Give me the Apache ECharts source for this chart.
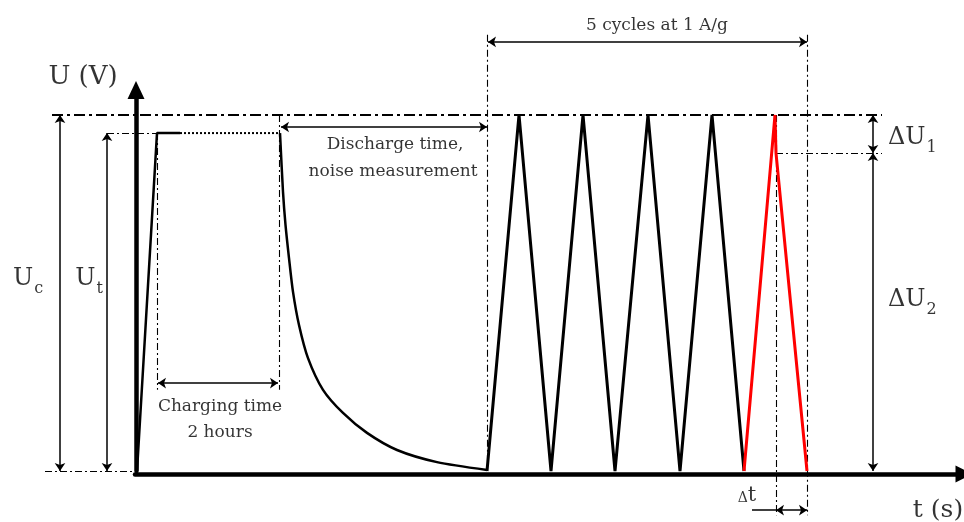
<!DOCTYPE html>
<html><head><meta charset="utf-8">
<script src="https://cdn.jsdelivr.net/npm/echarts@6/dist/echarts.min.js"></script>
<style>html,body{margin:0;padding:0;background:#fff}#c{width:964px;height:522px}</style>
</head><body><div id="c"></div>
<script>
// Voltage levels (normalised, U_C = 1)
const U_C = 1.0, U_T = 0.949, U_DROP = 0.893;

// Signal: charging ramp, hold, self-discharge, 5 galvanostatic cycles
const chargeT = [2, 22, 45];
const chargeU = [0, U_T, U_T];
const holdT = [45, 144];
const holdU = [U_T, U_T];
const dischargeT = [145, 148, 150.5, 154, 158, 164, 173, 188, 208, 232, 262, 302, 352];
const dischargeU = [0.949, 0.784, 0.691, 0.598, 0.503, 0.410, 0.317, 0.228, 0.163, 0.107, 0.059, 0.025, 0.003];
const cycleT = [352, 384, 416, 448, 480, 513, 545, 577, 609];
const cycleU = [0, 1, 0, 1, 0, 1, 0, 1, 0];
const redT = [609, 640, 641, 672];
const redU = [0, U_C, U_DROP, 0];

// Guide lines [t1, u1, t2, u2]
const thinGuides = [
  [-28, U_T, 22, U_T], [-90, 0, 0, 0], [22, U_T, 22, 0.228], [144, U_C, 144, 0.228],
  [352, 1.225, 352, 0], [672, 1.225, 672, -0.124], [641, U_C, 641, -0.124], [641, U_DROP, 747, U_DROP]
];
const topGuide = [[-83, U_C, 747, U_C]];
const doubleArrows = [
  [-75, U_C, -75, 0], [-28, U_T, -28, 0], [23, 0.247, 143, 0.247], [146, 0.966, 352, 0.966],
  [353, 1.205, 672, 1.205], [738, U_C, 738, U_DROP], [738, U_DROP, 738, 0], [641, -0.110, 672, -0.110]
];
const plainLines = [[617, -0.110, 641, -0.110]];

// Text labels
const labelText = ['U (V)', '{u|U}{s|c}', '{u|U}{s|t}', 'Charging time', '2 hours', 'Discharge time,', 'noise measurement',
  '5 cycles at 1 A/g', '{u|ΔU}{s|1}', '{u|ΔU}{s|2}', '{d|Δ}{t|t}', 't (s)'];
const labelT = [-52, -107, -46, 85, 85, 260, 258, 522, 753, 753, 612, 803];
const labelU = [1.107, 0.548, 0.548, 0.180, 0.107, 0.916, 0.840, 1.25, 0.944, 0.489, -0.067, -0.110];

const zip = (a, b) => a.map((v, i) => [v, b[i]]);
const seg = arr => arr.map(r => ({ coords: [[r[0], r[1]], [r[2], r[3]]] }));
const FONT = '"DejaVu Serif", serif';

const labelStyles = [
  { fontSize: 26 }, { align: 'center' }, { align: 'center' }, { fontSize: 17 }, { fontSize: 17 }, { fontSize: 17 }, { fontSize: 17 },
  { fontSize: 17 }, { align: 'left' }, { align: 'left' }, { align: 'center' }, { fontSize: 25 }
];
const rich = {
  u: { fontFamily: FONT, fontSize: 24, color: '#000', lineHeight: 30, verticalAlign: 'bottom' },
  s: { fontFamily: FONT, fontSize: 16, color: '#000', lineHeight: 30, verticalAlign: 'bottom', padding: [0, 0, -6, 1] },
  d: { fontFamily: FONT, fontSize: 14, color: '#000', lineHeight: 22, verticalAlign: 'bottom' },
  t: { fontFamily: FONT, fontSize: 21, color: '#000', lineHeight: 22, verticalAlign: 'bottom' }
};

const chart = echarts.init(document.getElementById('c'), null, { renderer: 'canvas' });
chart.setOption({
  animation: false,
  backgroundColor: '#fff',
  grid: { left: 135, right: 0, top: 90, bottom: 51 },
  xAxis: {
    type: 'value', min: 0, max: 829, offset: 3,
    axisLine: { onZero: false, lineStyle: { color: '#000', width: 4.5 }, symbol: ['none', 'triangle'], symbolSize: [17, 17] },
    axisTick: { show: false }, axisLabel: { show: false }, splitLine: { show: false }
  },
  yAxis: {
    type: 'value', min: 0, max: 1.07, offset: -1,
    axisLine: { show: true, onZero: false, lineStyle: { color: '#000', width: 4.5 }, symbol: ['none', 'triangle'], symbolSize: [17, 18] },
    axisTick: { show: false }, axisLabel: { show: false }, splitLine: { show: false }
  },
  series: [
    { type: 'lines', coordinateSystem: 'cartesian2d', clip: false, silent: true, data: seg(thinGuides),
      lineStyle: { color: '#000', width: 1.1, type: [7, 3, 2, 3], opacity: 1 } },
    { type: 'lines', coordinateSystem: 'cartesian2d', clip: false, silent: true, data: seg(topGuide),
      lineStyle: { color: '#000', width: 2, type: [11, 4, 3, 4], opacity: 1 } },
    { type: 'lines', coordinateSystem: 'cartesian2d', clip: false, silent: true, data: seg(doubleArrows),
      symbol: ['arrow', 'arrow'], symbolSize: 8,
      lineStyle: { color: '#000', width: 1.5, opacity: 1 } },
    { type: 'lines', coordinateSystem: 'cartesian2d', clip: false, silent: true, data: seg(plainLines),
      lineStyle: { color: '#000', width: 1.5, opacity: 1 } },
    { type: 'line', clip: false, silent: true, symbol: 'none', data: zip(chargeT, chargeU),
      lineStyle: { color: '#000', width: 2.5 } },
    { type: 'line', clip: false, silent: true, symbol: 'none', data: zip(holdT, holdU),
      lineStyle: { color: '#000', width: 2, type: [2, 2] } },
    { type: 'line', clip: false, silent: true, symbol: 'none', smooth: 0.25, data: zip(dischargeT, dischargeU),
      lineStyle: { color: '#000', width: 2.5 } },
    { type: 'line', clip: false, silent: true, symbol: 'none', data: zip(cycleT, cycleU),
      lineStyle: { color: '#000', width: 3, join: 'miter' } },
    { type: 'line', clip: false, silent: true, symbol: 'none', data: zip(redT, redU),
      lineStyle: { color: '#ff0000', width: 3 } },
    { type: 'scatter', clip: false, silent: true, symbolSize: 0,
      data: labelText.map((txt, i) => ({
        value: [labelT[i], labelU[i]],
        label: Object.assign({ show: true, position: 'inside', formatter: txt, color: '#000',
          fontFamily: FONT, fontSize: 17, align: 'center', verticalAlign: 'middle', rich: rich }, labelStyles[i])
      }))
    }
  ]
});
</script></body></html>
